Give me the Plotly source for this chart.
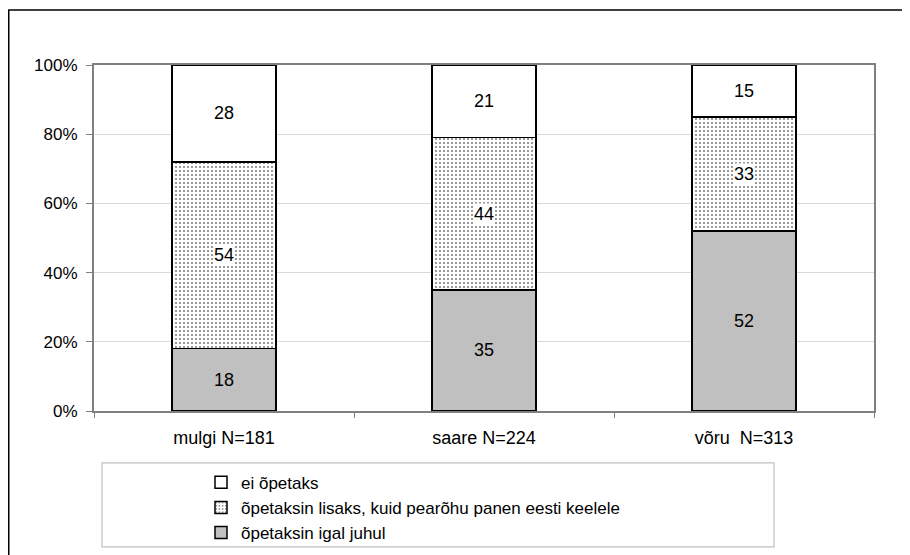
import plotly.graph_objects as go

categories = ["mulgi N=181", "saare N=224", "võru  N=313"]
igal_juhul = [18, 35, 52]
lisaks = [54, 44, 33]
ei_opetaks = [28, 21, 15]

names = ["õpetaksin igal juhul",
         "õpetaksin lisaks, kuid pearõhu panen eesti keelele",
         "ei õpetaks"]
y_ticks = [0, 20, 40, 60, 80, 100]
y_labels = ["0%", "20%", "40%", "60%", "80%", "100%"]

font = "Liberation Sans, Arial, sans-serif"

# plot area in figure pixels
L, T, W, H = 86, 57, 780, 354


def px(x):
    return (x - L) / W


def py(y):
    return (T + H - y) / H


fig = go.Figure()
fig.add_trace(go.Bar(
    x=categories, y=igal_juhul, name=names[0],
    text=igal_juhul, textposition="inside", insidetextanchor="middle",
    textfont=dict(size=18, color="black"),
    marker=dict(color="#c0c0c0", line=dict(color="black", width=1.5)),
))
fig.add_trace(go.Bar(
    x=categories, y=lisaks, name=names[1],
    marker=dict(color="white", line=dict(color="black", width=1.5),
                pattern=dict(shape=".", fgcolor="black", bgcolor="white",
                             size=4, solidity=0.22)),
))
fig.add_trace(go.Bar(
    x=categories, y=ei_opetaks, name=names[2],
    text=ei_opetaks, textposition="inside", insidetextanchor="middle",
    textfont=dict(size=18, color="black"),
    marker=dict(color="white", line=dict(color="black", width=1.5)),
))

# labels of the dotted series sit on a small white box
for c, b, v in zip(categories, igal_juhul, lisaks):
    fig.add_annotation(x=c, y=b + v / 2, text=str(v), showarrow=False,
                       font=dict(size=18, color="black"),
                       bgcolor="white", borderpad=0)

# legend frame and outer frame
fig.add_shape(type="rect", xref="paper", yref="paper",
              x0=px(94), x1=px(766), y0=py(550), y1=py(464),
              line=dict(color="#c0c0c0", width=1.2))
fig.add_shape(type="rect", xref="paper", yref="paper",
              x0=px(0.75), x1=px(930), y0=py(580), y1=py(0.75),
              line=dict(color="black", width=1.5))

fig.update_layout(
    width=910, height=555,
    margin=dict(l=L, r=910 - L - W, t=T, b=555 - T - H),
    barmode="stack", bargap=0.6,
    paper_bgcolor="white", plot_bgcolor="white",
    font=dict(family=font, size=18, color="black"),
    showlegend=True,
    legend=dict(x=px(193), xanchor="left",
                y=py(466), yanchor="top",
                traceorder="reversed", font=dict(size=17),
                bgcolor="rgba(0,0,0,0)"),
)
fig.update_xaxes(showline=True, linecolor="#808080", linewidth=2, mirror=True,
                 ticks="outside", tickson="boundaries", ticklen=5,
                 tickcolor="#808080", ticklabelstandoff=9,
                 tickfont=dict(size=18))
fig.update_yaxes(range=[0, 100], tickvals=y_ticks, ticktext=y_labels,
                 showline=True, linecolor="#808080", linewidth=2, mirror=True,
                 ticks="outside", ticklen=6, tickcolor="#808080",
                 gridcolor="#d9d9d9", gridwidth=1, ticklabelstandoff=5,
                 zeroline=False, tickfont=dict(size=17))

fig.write_html("out.html")
